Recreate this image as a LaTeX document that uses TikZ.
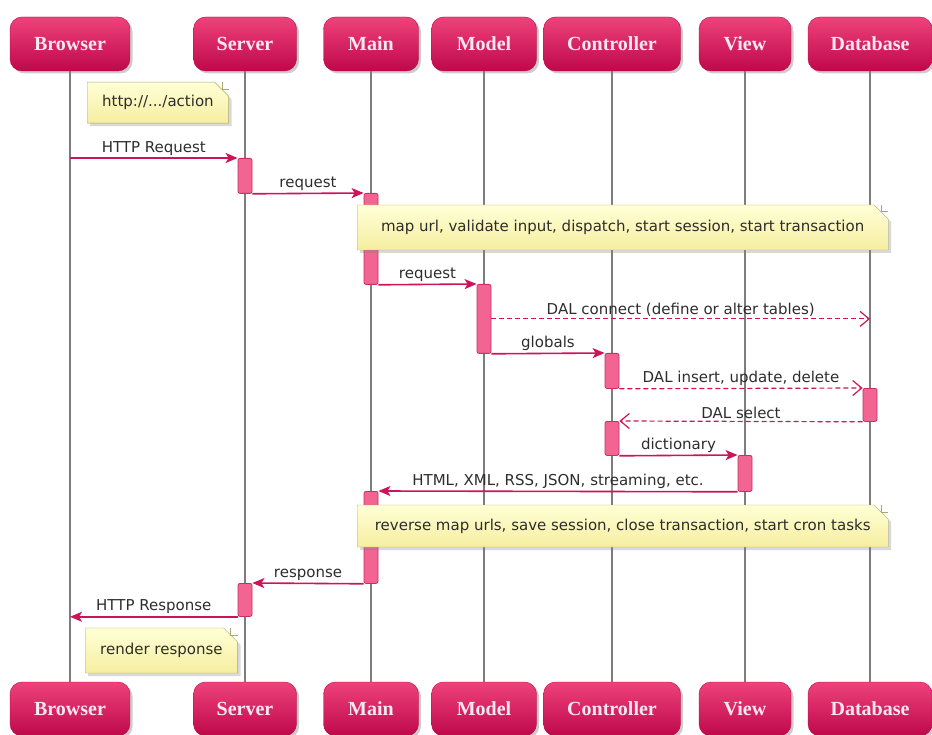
\documentclass[tikz,border=0pt]{standalone}
\usepackage{fontspec}
\newfontfamily\partfont{Liberation Serif}
\newfontfamily\lblfont{DejaVu Sans}
\usepackage{tikz}
\usetikzlibrary{arrows.meta, shapes.misc, shadows}
\definecolor{umlred}{RGB}{204,20,88}
\definecolor{umltop}{RGB}{238,66,122}
\definecolor{umlbot}{RGB}{190,8,74}
\definecolor{parttext}{RGB}{252,232,240}
\definecolor{actfill}{RGB}{242,100,145}
\definecolor{actline}{RGB}{205,45,100}
\definecolor{notetop}{RGB}{255,255,214}
\definecolor{notebot}{RGB}{246,238,160}
\definecolor{noteline}{RGB}{170,168,110}
\definecolor{lifegray}{RGB}{125,125,125}
\definecolor{txtgray}{RGB}{45,45,45}

\begin{document}
\begin{tikzpicture}[x=1pt, y=-1pt,
  part/.style={rectangle, rounded corners=12pt, top color=umltop, bottom color=umlbot,
               draw=umlbot, minimum height=54pt, text=parttext,
               font=\partfont\bfseries\fontsize{20}{24}\selectfont,
               drop shadow={opacity=0.4, shadow xshift=2.5pt, shadow yshift=-2.5pt}},
  life/.style={draw=lifegray, line width=1.4pt},
  act/.style={rectangle, rounded corners=2pt, fill=actfill, draw=actline, line width=0.8pt,
              minimum width=14pt, inner sep=0pt, anchor=north},
  msg/.style={draw=umlred, line width=1.6pt, -{Stealth[length=12pt, width=10pt, inset=3pt]}},
  ret/.style={draw=umlred, line width=1.2pt, dash pattern=on 5pt off 3pt,
              -{Straight Barb[length=9pt, width=15pt]}},
  lbl/.style={midway, above, inner sep=2pt, text=txtgray, font=\lblfont\fontsize{15}{18}\selectfont},
  note/.style={chamfered rectangle, chamfered rectangle corners=north east,
               chamfered rectangle sep=7pt, top color=notetop, bottom color=notebot,
               draw=noteline, text=txtgray, inner xsep=8pt,
               font=\lblfont\fontsize{15}{18}\selectfont,
               drop shadow={opacity=0.3, shadow xshift=3pt, shadow yshift=-3pt}},
  fold/.style={draw=noteline, line width=0.6pt}
]
\useasboundingbox (0,0) rectangle (932,735);

\node[part, minimum width=120pt] (browserT) at (70,44) {Browser};
\node[part, minimum width=103pt] (serverT) at (245,44) {Server};
\node[part, minimum width=95pt] (mainT) at (371,44) {Main};
\node[part, minimum width=105pt] (modelT) at (484,44) {Model};
\node[part, minimum width=137pt] (controllerT) at (612,44) {Controller};
\node[part, minimum width=92pt] (viewT) at (745,44) {View};
\node[part, minimum width=124pt] (databaseT) at (870,44) {Database};

\node[part, minimum width=120pt] (browserB) at (70,709) {Browser};
\node[part, minimum width=103pt] (serverB) at (245,709) {Server};
\node[part, minimum width=95pt] (mainB) at (371,709) {Main};
\node[part, minimum width=105pt] (modelB) at (484,709) {Model};
\node[part, minimum width=137pt] (controllerB) at (612,709) {Controller};
\node[part, minimum width=92pt] (viewB) at (745,709) {View};
\node[part, minimum width=124pt] (databaseB) at (870,709) {Database};

\draw[life] (browserT) -- (browserB);
\draw[life] (serverT) -- (serverB);
\draw[life] (mainT) -- (mainB);
\draw[life] (modelT) -- (modelB);
\draw[life] (controllerT) -- (controllerB);
\draw[life] (viewT) -- (viewB);
\draw[life] (databaseT) -- (databaseB);

\node[act, minimum height=35pt] (sv1) at (245,158) {};
\node[act, minimum height=91pt] (mn1) at (371,193) {};
\node[act, minimum height=69pt] (md1) at (484,284) {};
\node[act, minimum height=35pt] (ct1) at (612,353) {};
\node[act, minimum height=33pt] (db1) at (870,388) {};
\node[act, minimum height=34pt] (ct2) at (612,421) {};
\node[act, minimum height=36pt] (vw1) at (745,455) {};
\node[act, minimum height=92pt] (mn2) at (371,491) {};
\node[act, minimum height=33pt] (sv2) at (245,583) {};

\node[note, anchor=north west, minimum height=41pt] (url) at (87,82) {http://.../action};
\node[note, anchor=west, minimum width=531pt, minimum height=45pt] (dispatch) at (357,227.5)
  {map url, validate input, dispatch, start session, start transaction};
\node[note, anchor=west, minimum width=531pt, minimum height=42pt] (cleanup) at (357,526)
  {reverse map urls, save session, close transaction, start cron tasks};
\node[note, anchor=west, minimum height=45pt] (render) at (85,650.5) {render response};
\draw[fold] ([xshift=-7pt]url.north -| url.east) |- ([yshift=-7pt]url.north -| url.east);
\draw[fold] ([xshift=-7pt]dispatch.north -| dispatch.east) |- ([yshift=-7pt]dispatch.north -| dispatch.east);
\draw[fold] ([xshift=-7pt]cleanup.north -| cleanup.east) |- ([yshift=-7pt]cleanup.north -| cleanup.east);
\draw[fold] ([xshift=-7pt]render.north -| render.east) |- ([yshift=-7pt]render.north -| render.east);

\draw[msg] (browserT |- sv1.north) -- (sv1.north west) node[lbl]{HTTP Request};
\draw[msg] (sv1.south east) -- (mn1.north west) node[lbl]{request};
\draw[msg] (mn1.south east) -- (md1.north west) node[lbl]{request};
\draw[ret] (md1.east) -- (databaseT |- md1.east) node[lbl]{DAL connect (define or alter tables)};
\draw[msg] (md1.south east) -- (ct1.north west) node[lbl]{globals};
\draw[ret] (ct1.south east) -- (db1.north west) node[lbl]{DAL insert, update, delete};
\draw[ret] (db1.south west) -- (ct2.north east) node[lbl]{DAL select};
\draw[msg] (ct2.south east) -- (vw1.north west) node[lbl]{dictionary};
\draw[msg] (vw1.south west) -- (mn2.north east) node[lbl]{HTML, XML, RSS, JSON, streaming, etc.};
\draw[msg] (mn2.south west) -- (sv2.north east) node[lbl]{response};
\draw[msg] (sv2.south west) -- (browserT |- sv2.south) node[lbl]{HTTP Response};
\end{tikzpicture}
\end{document}
